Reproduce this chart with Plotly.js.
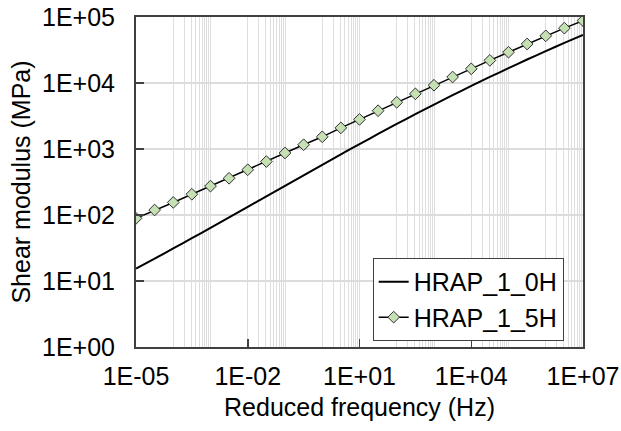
<!DOCTYPE html>
<html>
<head>
<meta charset="utf-8">
<script src="https://cdn.plot.ly/plotly-3.0.1.min.js"></script>
<style>
  html, body { margin: 0; padding: 0; background: #ffffff; }
  #chart { width: 621px; height: 431px; }
</style>
</head>
<body>
<div id="chart"></div>
<script>
// Reduced frequency (Hz), half-decade steps
var freq = [1e-5, 3.16e-5, 1e-4, 3.16e-4, 1e-3, 3.16e-3, 1e-2, 3.16e-2, 0.1, 0.316,
            1, 3.16, 10, 31.6, 100, 316, 1000, 3160, 1e4, 3.16e4, 1e5, 3.16e5, 1e6, 3.16e6, 1e7];

// Shear modulus (MPa)
var g_HRAP_1_0H = [15.4, 21.85, 31.1, 44.5, 64.0, 92.1, 133, 192, 277, 400,
                   577, 829, 1186, 1689, 2393, 3369, 4710, 6540, 9016, 12350,
                   16790, 22680, 30410, 40520, 53580];
var g_HRAP_1_5H = [89, 119, 155, 206, 274, 360, 485, 645, 870, 1160,
                   1530, 2090, 2810, 3800, 5100, 6850, 9250, 12330, 16400, 22000,
                   29300, 39000, 51800, 67800, 88000];

var seriesNames = ["HRAP_1_0H", "HRAP_1_5H"];

var xTickVals = [1e-5, 1e-2, 1e1, 1e4, 1e7];
var xTickText = ["1E-05", "1E-02", "1E+01", "1E+04", "1E+07"];
var yTickVals = [1, 10, 100, 1000, 1e4, 1e5];
var yTickText = ["1E+00", "1E+01", "1E+02", "1E+03", "1E+04", "1E+05"];

// minor vertical gridlines: every other decade (even exponents), at 1..10 x 10^k
var gridDecades = [-4, -2, 0, 2, 4, 6];
var xMinorGrid = [];
gridDecades.forEach(function (k) {
  for (var n = 1; n <= 10; n++) xMinorGrid.push(n * Math.pow(10, k));
});

var FONT = "Arial, 'Liberation Sans', sans-serif";
var FS = 25;
var AXC = "#404040";

var traces = [
  {
    x: freq, y: g_HRAP_1_0H, name: seriesNames[0],
    type: "scatter", mode: "lines",
    line: { color: "#000000", width: 2, shape: "spline", smoothing: 0.6 }
  },
  {
    x: freq, y: g_HRAP_1_5H, name: seriesNames[1],
    type: "scatter", mode: "lines+markers",
    line: { color: "#000000", width: 1.5 },
    marker: { symbol: "diamond", size: 9, color: "#c5e0b3",
              line: { color: "#303030", width: 1 } }
  }
];

var layout = {
  width: 621, height: 431,
  margin: { l: 136, r: 38, t: 17, b: 84, pad: 0 },
  paper_bgcolor: "#ffffff", plot_bgcolor: "#ffffff",
  font: { family: FONT, size: FS, color: "#000000" },
  showlegend: true,
  xaxis: {
    type: "log", range: [-5, 7], autorange: false,
    tickmode: "array", tickvals: xTickVals, ticktext: xTickText,
    ticks: "inside", ticklen: 8, tickwidth: 1.5, tickcolor: AXC,
    showline: true, linecolor: AXC, linewidth: 2, mirror: true,
    showgrid: false, zeroline: false,
    minor: { tickmode: "array", tickvals: xMinorGrid, showgrid: true,
             gridcolor: "#dedede", gridwidth: 1, ticks: "" },
    tickfont: { family: FONT, size: FS, color: "#000000" },
    ticklabelstandoff: 6,
    title: { text: "Reduced frequency (Hz)", font: { family: FONT, size: FS, color: "#000000" }, standoff: 9 }
  },
  yaxis: {
    type: "log", range: [0, 5], autorange: false,
    tickmode: "array", tickvals: yTickVals, ticktext: yTickText,
    ticks: "inside", ticklen: 8, tickwidth: 1.5, tickcolor: AXC,
    showline: true, linecolor: AXC, linewidth: 2, mirror: true,
    showgrid: true, gridcolor: "#dcdcdc", gridwidth: 1.5, zeroline: false,
    tickfont: { family: FONT, size: FS, color: "#000000" },
    ticklabelstandoff: 14,
    title: { text: "Shear modulus (MPa)", font: { family: FONT, size: FS, color: "#000000" }, standoff: 4 }
  },
  legend: {
    x: 0.5295, y: 0.27, xanchor: "left", yanchor: "top",
    bgcolor: "#ffffff", bordercolor: AXC, borderwidth: 1,
    font: { family: FONT, size: FS, color: "#000000" },
    itemwidth: 30, tracegroupgap: 0
  }
};

Plotly.newPlot("chart", traces, layout, { displayModeBar: false, staticPlot: true });
</script>
</body>
</html>
